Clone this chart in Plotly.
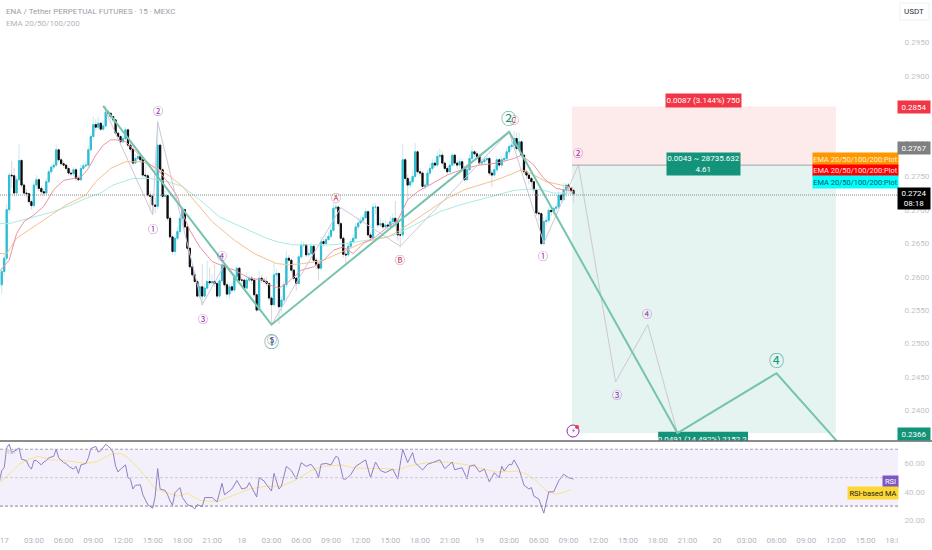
import numpy as np
import pandas as pd
import plotly.graph_objects as go

# 15 minute candles, index -1 is the first one on the left
first_index = -1
first_open = 0.2589
close = [
    0.2609, 0.2629, 0.2702, 0.2754, 0.2753, 0.2727, 0.2747, 0.2776, 0.2739, 0.2727, 0.2726,
    0.2714, 0.2708, 0.2739, 0.2747, 0.2734, 0.2729, 0.2727, 0.2744, 0.2759, 0.2766,
    0.2769, 0.2792, 0.2777, 0.2771, 0.2769, 0.2764, 0.2757, 0.2756, 0.2762, 0.2749,
    0.2747, 0.2764, 0.2768, 0.2769, 0.2792, 0.2812, 0.2830, 0.2826, 0.2832, 0.2823,
    0.2828, 0.2849, 0.2847, 0.2842, 0.2837, 0.2817, 0.2812, 0.2804, 0.2809, 0.2822,
    0.2799, 0.2793, 0.2772, 0.2779, 0.2782, 0.2777, 0.2754, 0.2753, 0.2724, 0.2722,
    0.2709, 0.2707, 0.2799, 0.2762, 0.2722, 0.2723, 0.2689, 0.2661, 0.2639, 0.2659,
    0.2669, 0.2689, 0.2702, 0.2676, 0.2644, 0.2616, 0.2604, 0.2594, 0.2572, 0.2586,
    0.2572, 0.2584, 0.2594, 0.2592, 0.2594, 0.2591, 0.2572, 0.2595, 0.2619, 0.2589,
    0.2575, 0.2586, 0.2581, 0.2601, 0.2614, 0.2596, 0.2596, 0.2584, 0.2596, 0.2599,
    0.2596, 0.2574, 0.2551, 0.2599, 0.2596, 0.2594, 0.2591, 0.2569, 0.2559, 0.2604,
    0.2606, 0.2556, 0.2566, 0.2589, 0.2629, 0.2626, 0.2611, 0.2599, 0.2591, 0.2631,
    0.2649, 0.2649, 0.2634, 0.2636, 0.2647, 0.2626, 0.2620, 0.2614, 0.2654, 0.2651,
    0.2657, 0.2662, 0.2671, 0.2704, 0.2706, 0.2681, 0.2659, 0.2635, 0.2634, 0.2647,
    0.2654, 0.2659, 0.2676, 0.2682, 0.2686, 0.2690, 0.2699, 0.2664, 0.2660, 0.2706,
    0.2706, 0.2679, 0.2681, 0.2676, 0.2679, 0.2677, 0.2684, 0.2689, 0.2684, 0.2664,
    0.2664, 0.2777, 0.2749, 0.2739, 0.2744, 0.2752, 0.2789, 0.2759, 0.2757, 0.2737,
    0.2739, 0.2757, 0.2764, 0.2772, 0.2769, 0.2782, 0.2784, 0.2772, 0.2764, 0.2759,
    0.2769, 0.2784, 0.2772, 0.2769, 0.2774, 0.2764, 0.2747, 0.2762, 0.2779, 0.2789,
    0.2786, 0.2782, 0.2772, 0.2774, 0.2777, 0.2779, 0.2757, 0.2754, 0.2762, 0.2777,
    0.2769, 0.2777, 0.2779, 0.2789, 0.2797, 0.2799, 0.2809, 0.2794, 0.2804, 0.2784,
    0.2759, 0.2754, 0.2749, 0.2744, 0.2732, 0.2697, 0.2696, 0.2651, 0.2684, 0.2686,
    0.2701, 0.2699, 0.2704, 0.2706, 0.2724, 0.2717, 0.2732, 0.2739, 0.2735, 0.2731,
    0.2726,
]
high = [
    0.2614, 0.2636, 0.2710, 0.2758, 0.2775, 0.2765, 0.2752, 0.2800, 0.2778, 0.2742, 0.2733,
    0.2728, 0.2717, 0.2745, 0.2754, 0.2750, 0.2738, 0.2733, 0.2750, 0.2763, 0.2771,
    0.2775, 0.2800, 0.2794, 0.2780, 0.2775, 0.2772, 0.2767, 0.2762, 0.2766, 0.2765,
    0.2754, 0.2770, 0.2773, 0.2776, 0.2798, 0.2816, 0.2842, 0.2838, 0.2842, 0.2834,
    0.2836, 0.2858, 0.2852, 0.2848, 0.2844, 0.2838, 0.2820, 0.2815, 0.2814, 0.2826,
    0.2824, 0.2802, 0.2795, 0.2785, 0.2788, 0.2785, 0.2780, 0.2768, 0.2756, 0.2730,
    0.2725, 0.2720, 0.2836, 0.2802, 0.2765, 0.2732, 0.2725, 0.2692, 0.2664, 0.2664,
    0.2677, 0.2695, 0.2706, 0.2704, 0.2678, 0.2646, 0.2620, 0.2608, 0.2596, 0.2592,
    0.2620, 0.2592, 0.2625, 0.2615, 0.2605, 0.2620, 0.2594, 0.2600, 0.2625, 0.2621,
    0.2593, 0.2591, 0.2592, 0.2606, 0.2619, 0.2616, 0.2601, 0.2598, 0.2608, 0.2603,
    0.2603, 0.2599, 0.2576, 0.2610, 0.2604, 0.2600, 0.2600, 0.2593, 0.2572, 0.2622,
    0.2612, 0.2608, 0.2572, 0.2594, 0.2640, 0.2634, 0.2628, 0.2613, 0.2601, 0.2636,
    0.2655, 0.2654, 0.2651, 0.2642, 0.2652, 0.2650, 0.2630, 0.2624, 0.2661, 0.2658,
    0.2664, 0.2668, 0.2680, 0.2712, 0.2712, 0.2708, 0.2684, 0.2662, 0.2642, 0.2652,
    0.2658, 0.2665, 0.2682, 0.2690, 0.2692, 0.2695, 0.2704, 0.2701, 0.2668, 0.2712,
    0.2712, 0.2708, 0.2690, 0.2686, 0.2686, 0.2684, 0.2692, 0.2696, 0.2715, 0.2690,
    0.2670, 0.2800, 0.2780, 0.2755, 0.2750, 0.2762, 0.2802, 0.2791, 0.2764, 0.2760,
    0.2745, 0.2762, 0.2772, 0.2778, 0.2777, 0.2790, 0.2794, 0.2790, 0.2775, 0.2768,
    0.2775, 0.2788, 0.2786, 0.2776, 0.2780, 0.2778, 0.2768, 0.2768, 0.2785, 0.2798,
    0.2792, 0.2790, 0.2785, 0.2780, 0.2782, 0.2785, 0.2782, 0.2762, 0.2768, 0.2782,
    0.2780, 0.2783, 0.2785, 0.2795, 0.2802, 0.2806, 0.2820, 0.2818, 0.2818, 0.2806,
    0.2786, 0.2762, 0.2758, 0.2751, 0.2746, 0.2734, 0.2700, 0.2698, 0.2690, 0.2692,
    0.2706, 0.2704, 0.2708, 0.2712, 0.2730, 0.2726, 0.2742, 0.2743, 0.2742, 0.2737,
    0.2733,
]
low = [
    0.2575, 0.2602, 0.2625, 0.2695, 0.2735, 0.2722, 0.2725, 0.2745, 0.2735, 0.2724, 0.2720,
    0.2710, 0.2702, 0.2705, 0.2733, 0.2730, 0.2724, 0.2722, 0.2725, 0.2742, 0.2755,
    0.2762, 0.2766, 0.2774, 0.2768, 0.2765, 0.2760, 0.2753, 0.2752, 0.2752, 0.2745,
    0.2744, 0.2745, 0.2762, 0.2765, 0.2767, 0.2790, 0.2810, 0.2820, 0.2822, 0.2820,
    0.2820, 0.2826, 0.2842, 0.2838, 0.2833, 0.2814, 0.2808, 0.2800, 0.2802, 0.2806,
    0.2795, 0.2789, 0.2768, 0.2770, 0.2776, 0.2773, 0.2750, 0.2748, 0.2720, 0.2700,
    0.2695, 0.2697, 0.2702, 0.2758, 0.2718, 0.2718, 0.2685, 0.2657, 0.2634, 0.2632,
    0.2656, 0.2665, 0.2685, 0.2672, 0.2640, 0.2612, 0.2600, 0.2590, 0.2570, 0.2568,
    0.2558, 0.2570, 0.2582, 0.2588, 0.2588, 0.2586, 0.2568, 0.2570, 0.2592, 0.2585,
    0.2570, 0.2568, 0.2577, 0.2578, 0.2598, 0.2592, 0.2590, 0.2580, 0.2582, 0.2593,
    0.2590, 0.2570, 0.2548, 0.2550, 0.2591, 0.2590, 0.2587, 0.2565, 0.2532, 0.2557,
    0.2590, 0.2530, 0.2545, 0.2562, 0.2585, 0.2622, 0.2607, 0.2595, 0.2580, 0.2589,
    0.2628, 0.2645, 0.2630, 0.2630, 0.2633, 0.2622, 0.2612, 0.2596, 0.2610, 0.2646,
    0.2649, 0.2655, 0.2659, 0.2669, 0.2700, 0.2677, 0.2655, 0.2630, 0.2619, 0.2630,
    0.2644, 0.2650, 0.2657, 0.2672, 0.2680, 0.2682, 0.2688, 0.2660, 0.2655, 0.2658,
    0.2695, 0.2675, 0.2676, 0.2672, 0.2674, 0.2673, 0.2675, 0.2680, 0.2675, 0.2655,
    0.2645, 0.2660, 0.2745, 0.2715, 0.2736, 0.2740, 0.2750, 0.2755, 0.2752, 0.2733,
    0.2732, 0.2736, 0.2752, 0.2760, 0.2765, 0.2766, 0.2778, 0.2768, 0.2760, 0.2755,
    0.2757, 0.2766, 0.2768, 0.2764, 0.2765, 0.2760, 0.2743, 0.2745, 0.2760, 0.2776,
    0.2781, 0.2778, 0.2768, 0.2768, 0.2770, 0.2774, 0.2753, 0.2736, 0.2750, 0.2758,
    0.2765, 0.2764, 0.2772, 0.2775, 0.2785, 0.2792, 0.2795, 0.2790, 0.2790, 0.2780,
    0.2755, 0.2748, 0.2740, 0.2735, 0.2725, 0.2693, 0.2685, 0.2648, 0.2648, 0.2678,
    0.2682, 0.2692, 0.2695, 0.2700, 0.2704, 0.2712, 0.2715, 0.2728, 0.2730, 0.2725,
    0.2712,
]

# EMA curves read at a few candles
ema20_idx = [-2, 2, 5, 8, 12, 16, 20, 24, 28, 31, 34, 37, 40, 43, 45, 49, 52, 56, 60, 62, 66, 70,
             72, 75, 79, 84, 89, 93, 99, 105, 107, 111, 115, 120, 125, 129, 133, 137, 141, 145,
             150, 155, 159, 163, 167, 172, 179, 186, 192, 199, 206, 209, 214, 218, 223, 230]
ema20 = [0.2609, 0.2626, 0.2666, 0.2684, 0.2694, 0.2707, 0.2732, 0.2746, 0.2749, 0.2751, 0.2764,
         0.2784, 0.2799, 0.2807, 0.2807, 0.2804, 0.2794, 0.2779, 0.2767, 0.2762, 0.2744, 0.2722,
         0.2697, 0.2671, 0.2646, 0.2624, 0.2616, 0.2611, 0.2599, 0.2596, 0.2589, 0.2584, 0.2594,
         0.2611, 0.2616, 0.2626, 0.2641, 0.2646, 0.2636, 0.2651, 0.2661, 0.2676, 0.2686, 0.2717,
         0.2729, 0.2739, 0.2754, 0.2764, 0.2769, 0.2772, 0.2779, 0.2784, 0.2769, 0.2749, 0.2734,
         0.2729]
ema50_idx = [-2, 1, 5, 12, 19, 25, 33, 37, 43, 49, 56, 62, 67, 72, 79, 84, 93, 101, 110, 115, 121,
             129, 138, 146, 155, 159, 165, 172, 179, 186, 192, 199, 206, 209, 214, 219, 225, 230]
ema50 = [0.2636, 0.2636, 0.2659, 0.2676, 0.2694, 0.2709, 0.2724, 0.2744, 0.2764, 0.2774, 0.2774,
         0.2764, 0.2752, 0.2737, 0.2707, 0.2684, 0.2656, 0.2636, 0.2621, 0.2619, 0.2621, 0.2626,
         0.2641, 0.2654, 0.2661, 0.2669, 0.2684, 0.2701, 0.2719, 0.2732, 0.2739, 0.2747, 0.2757,
         0.2762, 0.2754, 0.2744, 0.2739, 0.2734]
ema100_idx = [-2, 2, 12, 20, 27, 33, 39, 44, 52, 59, 66, 72, 79, 87, 97, 106, 111, 117, 125, 132,
              138, 146, 155, 159, 168, 176, 184, 192, 200, 206, 212, 217, 222, 230]
ema100 = [0.2681, 0.2681, 0.2691, 0.2699, 0.2709, 0.2719, 0.2727, 0.2739, 0.2749, 0.2749, 0.2744,
          0.2737, 0.2717, 0.2691, 0.2674, 0.2659, 0.2653, 0.2649, 0.2649, 0.2649, 0.2651, 0.2656,
          0.2661, 0.2666, 0.2684, 0.2699, 0.2709, 0.2717, 0.2724, 0.2731, 0.2733, 0.2732, 0.2727,
          0.2727]

# Elliott wave paths
wave_big_idx = [40, 108, 204, 272, 312, 340]
wave_big = [0.2858, 0.2529, 0.2819, 0.2366, 0.2456, 0.2339]
wave_small_idx = [40, 60, 62, 80, 89, 108, 136, 160, 204, 218, 232, 247, 260, 272]
wave_small = [0.2858, 0.2694, 0.2834, 0.2559, 0.2619, 0.2529, 0.2705, 0.2647, 0.2819, 0.2652,
              0.2769, 0.2443, 0.2529, 0.2366]

# long position tool, drawn on the scale of the candles
entry_price = 0.2769
stop_price = 0.2857
target_price = 0.2366
last_price = 0.2724
pos_start_idx = 229.4
pos_end_idx = 336

# RSI pane
rsi_idx = [-2, -1, 0, 1, 2, 3, 5, 6, 7, 9, 10, 11, 12, 13, 15, 16, 17, 18, 20, 21, 22, 24, 25, 26,
           28, 29, 30, 31, 33, 34, 35, 37, 38, 39, 41, 43, 44, 45, 46, 47, 49, 50, 51, 52, 53, 55,
           56, 57, 58, 60, 61, 62, 63, 65, 66, 67, 68, 69, 71, 72, 74, 76, 77, 78, 80, 81, 84, 86,
           88, 89, 91, 92, 94, 96, 98, 99, 102, 103, 105, 106, 108, 109, 111, 112, 114, 116, 118,
           120, 122, 124, 126, 127, 128, 130, 132, 134, 135, 137, 138, 140, 142, 146, 148, 150,
           152, 154, 157, 159, 161, 163, 165, 166, 169, 171, 173, 176, 178, 181, 182, 185, 187,
           188, 190, 192, 194, 196, 198, 200, 201, 202, 204, 205, 206, 208, 210, 212, 213, 214,
           216, 218, 220, 222, 224, 226, 228, 230]
rsi = [46.5, 55, 57, 71, 73.5, 67.7, 69.5, 71, 63, 62, 58, 56, 62, 62, 59, 61, 62, 64, 65, 70, 64,
       60.6, 60, 58, 56, 58, 53, 59, 60, 64, 70.5, 72, 68, 69, 73.5, 70.5, 67.7, 58, 54, 56, 59,
       50, 49, 42, 44.6, 45, 38, 35, 31, 28.5, 37, 56.4, 42, 41, 38, 33.6, 30.6, 39.5, 43, 36, 31,
       29.6, 28, 31, 29.6, 36, 36, 33, 46, 38, 40.6, 42, 48, 42, 43, 46.5, 36.4, 50, 47.7, 45,
       40.6, 53, 42, 44, 58, 55, 49, 60.6, 58, 59.4, 54.7, 50, 59.4, 60, 59, 65, 64, 49, 49, 52,
       58, 62.5, 50, 61, 55, 53.6, 56, 49, 70, 60.6, 67.7, 60.6, 55.4, 59.4, 60.6, 62.5, 56.4, 61,
       55.6, 57, 49, 58, 59, 54, 56, 47, 53.5, 50, 58, 54.7, 59.4, 59, 62.5, 56, 44.7, 42, 43, 37,
       35, 25, 40, 40, 47.7, 52.4, 50, 49]
rsi_ma_idx = [-2, 2, 6, 10, 14, 19, 25, 33, 37, 43, 47, 50, 54, 58, 61, 66, 70, 74, 79, 86, 93, 99,
              106, 112, 117, 124, 129, 136, 141, 148, 155, 159, 163, 171, 179, 187, 194, 199, 207,
              211, 215, 219, 223, 226, 229]
rsi_ma = [46.5, 52.4, 59.4, 63, 65, 62.5, 62, 60, 61, 66.5, 67, 64, 57, 49, 42, 39.5, 37, 39, 34,
          33, 38, 42, 44, 44, 47.7, 55, 58, 59, 57, 56.4, 56.4, 55.4, 58, 60.6, 61, 59, 56, 54,
          54.7, 52.4, 47.7, 40.7, 38.3, 39.5, 42]

# time axis labels, one every three hours
tick_labels = ['17', '03:00', '06:00', '09:00', '12:00', '15:00', '18:00', '21:00',
               '18', '03:00', '06:00', '09:00', '12:00', '15:00', '18:00', '21:00',
               '19', '03:00', '06:00', '09:00', '12:00', '15:00', '18:00', '21:00',
               '20', '03:00', '06:00', '09:00', '12:00', '15:00', '18:00']
price_ticks = [0.2950, 0.2900, 0.2800, 0.2750, 0.2700, 0.2650, 0.2600, 0.2550, 0.2500, 0.2450, 0.2400]
rsi_ticks = [60, 40, 20]

W, H = 932, 550
start = pd.Timestamp('2025-04-17 00:00')


def t(i):
    return start + pd.Timedelta(minutes=15 * float(i))


def times(idx):
    return [t(i) for i in idx]


def px(x):
    return x / W


def py(y):
    return 1 - y / H


close_arr = np.array(close)
open_arr = np.concatenate([[first_open], close_arr[:-1]])
candle_times = times(range(first_index, first_index + len(close)))

fig = go.Figure()

# wicks go first and are pale, solid bodies go on top
fig.add_trace(go.Candlestick(
    x=candle_times, open=open_arr, high=high, low=low, close=close_arr,
    increasing=dict(line=dict(color='#b9e6ee', width=0.8), fillcolor='rgba(0,0,0,0)'),
    decreasing=dict(line=dict(color='#cfcfd4', width=0.8), fillcolor='rgba(0,0,0,0)'),
    xaxis='x', yaxis='y'))
fig.add_trace(go.Candlestick(
    x=candle_times, open=open_arr, close=close_arr,
    high=np.maximum(open_arr, close_arr), low=np.minimum(open_arr, close_arr),
    increasing=dict(line=dict(color='#2cbcd2', width=1), fillcolor='#2cbcd2'),
    decreasing=dict(line=dict(color='#0c0c10', width=1), fillcolor='#0c0c10'),
    xaxis='x', yaxis='y'))

fig.add_trace(go.Scatter(x=times(ema100_idx), y=ema100, mode='lines', line=dict(color='#a8ebe4', width=1)))
fig.add_trace(go.Scatter(x=times(ema50_idx), y=ema50, mode='lines', line=dict(color='#f6c08e', width=1)))
fig.add_trace(go.Scatter(x=times(ema20_idx), y=ema20, mode='lines', line=dict(color='#f0919f', width=1)))
fig.add_trace(go.Scatter(x=times(wave_small_idx), y=wave_small, mode='lines',
                         line=dict(color='#cdc6d8', width=1)))
fig.add_trace(go.Scatter(x=times(wave_big_idx), y=wave_big, mode='lines',
                         line=dict(color='#76c3ae', width=2)))

# target badge lives in the price pane so the pane cuts it off
fig.add_trace(go.Scatter(x=[t(282)], y=[0.2356], mode='text', text=['0.0491 (14.492%) 2152.2'],
                         textfont=dict(color='white', size=8, family='Roboto')))

# the price scale has its own slightly tighter axis, this trace only makes plotly draw it
fig.add_trace(go.Scatter(x=[t(0)] * len(price_ticks), y=price_ticks, mode='markers', marker=dict(opacity=0),
                         xaxis='x', yaxis='y3'))

fig.add_trace(go.Scatter(x=times(rsi_ma_idx), y=rsi_ma, mode='lines',
                         line=dict(color='#f3e48c', width=1), xaxis='x2', yaxis='y2'))
fig.add_trace(go.Scatter(x=times(rsi_idx), y=rsi, mode='lines',
                         line=dict(color='#8f7fc4', width=1), xaxis='x2', yaxis='y2'))

shapes = [
    dict(type='rect', xref='x', yref='y', x0=t(pos_start_idx), x1=t(pos_end_idx), y0=entry_price,
         y1=stop_price, fillcolor='#fdebec', line_width=0, layer='below'),
    dict(type='rect', xref='x', yref='y', x0=t(pos_start_idx), x1=t(pos_end_idx), y0=target_price,
         y1=entry_price, fillcolor='#e6f4f1', line_width=0, layer='below'),
    dict(type='line', xref='x', yref='y', x0=t(pos_start_idx), x1=t(pos_end_idx), y0=entry_price,
         y1=entry_price, line=dict(color='#a3a3a3', width=1)),
    dict(type='line', xref='x domain', yref='y', x0=0, x1=1, y0=last_price, y1=last_price,
         line=dict(color='#8a8a8a', width=1, dash='1px,1px')),
    dict(type='rect', xref='x', yref='y', x0=t(264.2), x1=t(300.5), y0=0.2300, y1=0.2368,
         fillcolor='#12937a', line_width=0, layer='below'),
    dict(type='rect', xref='x2 domain', yref='y2', x0=0, x1=1, y0=30, y1=70, fillcolor='#f4f0fb',
         line_width=0, layer='below'),
    dict(type='line', xref='x2 domain', yref='y2', x0=0, x1=1, y0=70, y1=70,
         line=dict(color='#a5a3b0', width=1, dash='3px,2px')),
    dict(type='line', xref='x2 domain', yref='y2', x0=0, x1=1, y0=50, y1=50,
         line=dict(color='#cac8d4', width=1, dash='3px,2px')),
    dict(type='line', xref='x2 domain', yref='y2', x0=0, x1=1, y0=30, y1=30,
         line=dict(color='#85838f', width=1, dash='3px,2px')),
    dict(type='line', xref='paper', yref='paper', x0=0, x1=1, y0=py(441), y1=py(441),
         line=dict(color='#666666', width=1.5)),
    # alert icon
    dict(type='circle', xref='paper', yref='paper', x0=px(567), x1=px(579), y0=py(425), y1=py(437),
         line=dict(color='#9c27b0', width=1), fillcolor='white'),
    dict(type='circle', xref='paper', yref='paper', x0=px(575), x1=px(579), y0=py(425), y1=py(429),
         line_width=0, fillcolor='#f23645'),
    # usdt button
    dict(type='rect', xref='paper', yref='paper', x0=px(900), x1=px(929), y0=py(3), y1=py(20),
         line=dict(color='#f0f0f0', width=1), fillcolor='white'),
    # last time label is cut by the price scale
    dict(type='rect', xref='paper', yref='paper', x0=px(898), x1=1, y0=py(549), y1=py(534),
         line_width=0, fillcolor='white'),
]

annotations = []


def note(x, y, text, color='#b2b5be', size=8, bg=None, w=None, h=None, anchor='center', family='Roboto'):
    annotations.append(dict(
        xref='paper', yref='paper', x=px(x), y=py(y), text=text, showarrow=False, xanchor=anchor,
        yanchor='middle', align='center' if anchor == 'center' else 'left', bgcolor=bg, width=w,
        height=h, borderpad=0, font=dict(color=color, size=size, family=family)))


cjk = 'Noto Sans CJK JP'
note(5, 11, 'ENA / Tether PERPETUAL FUTURES · 15 · MEXC', color='#9a9da6', size=8, anchor='left')
note(5, 23, 'EMA 20/50/100/200', color='#b2b5be', size=8, anchor='left')
note(10, 452, 'RSI', color='#c4c4cc', size=7)

# wave counts
for x, y, s in [(152.5, 228, '①'), (158, 111, '②'), (202.5, 318, '③'), (222, 255, '④'),
                (271.5, 339, '⑤'), (543, 255, '①'), (577.5, 152, '②'), (617, 394, '③'), (647, 313, '④')]:
    note(x, y, s, color='#9c27b0', size=10, family=cjk)
for x, y, s in [(336, 197, 'Ⓐ'), (400, 259, 'Ⓑ'), (514, 120, 'Ⓒ')]:
    note(x, y, s, color='#c2355a', size=10, family=cjk)
for x, y, s in [(271.5, 340, '①'), (508, 117, '②'), (776, 359, '④')]:
    note(x, y, s, color='#14997c', size=15, family=cjk)
note(573, 431, '⚡', color='#9c27b0', size=7, family='DejaVu Sans')

# position badges
note(703.5, 100, '0.0087 (3.144%) 750', color='white', size=8, bg='#f23645', w=75, h=13)
note(703.5, 164, '0.0043 ~ 28735.632<br>4.61', color='white', size=8, bg='#12937a', w=73, h=22)

# pane labels on the right
note(855.5, 159, 'EMA 20/50/100/200:Plot', color='#fff1dc', size=7.5, bg='#ff9800', w=85, h=12)
note(855.5, 170.5, 'EMA 20/50/100/200:Plot', color='#ffe6e6', size=7.5, bg='#ff0000', w=85, h=11)
note(855.5, 182, 'EMA 20/50/100/200:Plot', color='#0b5560', size=7.5, bg='#00ffff', w=85, h=12)
note(914, 107.5, '0.2854', color='white', size=8, bg='#f23645', w=32, h=12)
note(914, 148, '0.2767', color='white', size=8, bg='#808080', w=32, h=12)
note(914, 198.5, '0.2724<br>08:18', color='white', size=8, bg='#000000', w=32, h=21)
note(914, 433.5, '0.2366', color='white', size=8, bg='#12937a', w=32, h=12)
note(890.5, 481, 'RSI', color='white', size=7.5, bg='#7e57c2', w=15, h=11)
note(873, 492.5, 'RSI-based MA', color='#1a1a1a', size=7.5, bg='#fdd835', w=50, h=12)
note(914, 11, 'USDT', color='#2a2e39', size=8)

fig.update_layout(
    width=W, height=H, showlegend=False, margin=dict(l=0, r=0, t=0, b=0), plot_bgcolor='white',
    paper_bgcolor='white', font=dict(family='Roboto', size=8, color='#b2b5be'), hovermode=False,
    shapes=shapes, annotations=annotations,
    xaxis=dict(domain=[0, 898 / W], anchor='y', range=[t(-1.7), t(361.1)], showgrid=False, zeroline=False,
               showticklabels=False, ticks='', rangeslider=dict(visible=False), automargin=False),
    xaxis2=dict(domain=[0, 898 / W], anchor='y2', matches='x', range=[t(-1.7), t(361.1)], showgrid=False,
                zeroline=False, tickmode='array', tickvals=times(range(0, 12 * len(tick_labels), 12)),
                ticktext=tick_labels, tickangle=0, ticks='', tickfont=dict(size=8, color='#b2b5be'),
                rangeslider=dict(visible=False), automargin=False, ticklabeloverflow='allow'),
    yaxis=dict(domain=[py(441), 1], anchor='x', side='right', range=[0.23541, 0.30173], showgrid=False,
               zeroline=False, showticklabels=False, ticks='', automargin=False),
    yaxis3=dict(domain=[py(441), 1], anchor='x', overlaying='y', side='right', range=[0.23544, 0.30136],
                showgrid=False, zeroline=False, tickmode='array', tickvals=price_ticks, tickformat='.4f',
                automargin=False, ticks='outside', ticklen=4, tickcolor='white',
                tickfont=dict(size=8, color='#c0c3cb')),
    yaxis2=dict(domain=[py(533.5), py(442)], anchor='x2', side='right', range=[10.7, 75.1], showgrid=False,
                zeroline=False, tickmode='array', tickvals=rsi_ticks, tickformat='.2f', automargin=False,
                ticks='outside', ticklen=4, tickcolor='white', tickfont=dict(size=8, color='#c0c3cb')),
)

# the page's default body margin would push the chart off by 8px
fig.write_html("out.html", post_script="document.body.style.margin='0';",
               config={'displayModeBar': False})
